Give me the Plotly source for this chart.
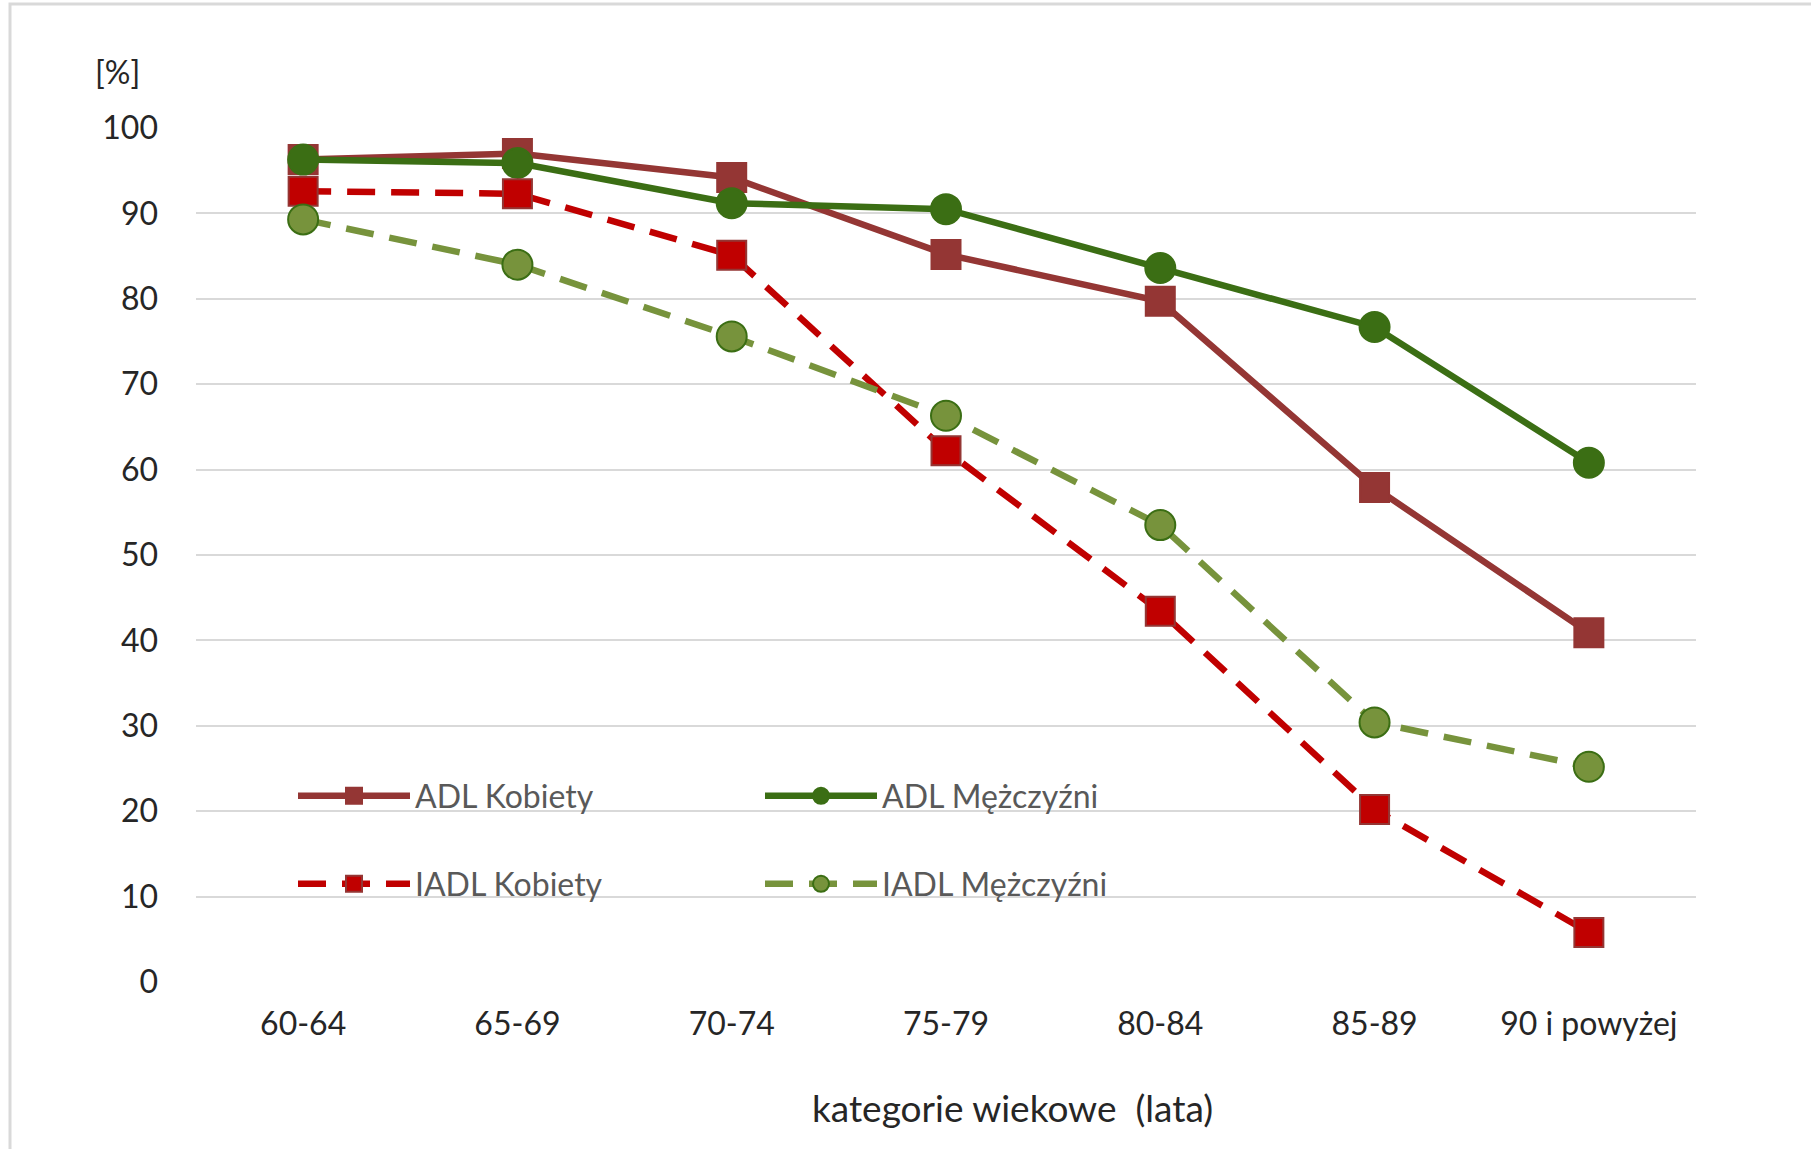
import plotly.graph_objects as go

categories = ["60-64", "65-69", "70-74", "75-79", "80-84", "85-89", "90 i powyżej"]
adl_kobiety = [96.3, 97.0, 94.2, 85.2, 79.7, 57.9, 40.9]
adl_mezczyzni = [96.3, 95.9, 91.2, 90.5, 83.6, 76.7, 60.8]
iadl_kobiety = [92.6, 92.3, 85.1, 62.2, 43.4, 20.2, 5.8]
iadl_mezczyzni = [89.3, 84.0, 75.6, 66.3, 53.5, 30.4, 25.2]
y_ticks = [0, 10, 20, 30, 40, 50, 60, 70, 80, 90, 100]

FONT = "Lato"
W, H = 1811, 1149
ML, MR, MT, MB = 196, 115, 128, 167
PW, PH = W - ML - MR, H - MT - MB

def px_x(p):
    return (p - ML) / PW

def px_y(p):
    return (H - MB - p) / PH

fig = go.Figure()

series = [
    ("ADL Kobiety", adl_kobiety, "#943634", "solid", "square", 29, "#943634", "#943634", "legend"),
    ("ADL Mężczyźni", adl_mezczyzni, "#3B6E14", "solid", "circle", 30, "#3B6E14", "#3B6E14", "legend2"),
    ("IADL Kobiety", iadl_kobiety, "#C00000", "28px,16px", "square", 29, "#C00000", "#943634", "legend3"),
    ("IADL Mężczyźni", iadl_mezczyzni, "#77933C", "28px,16px", "circle", 30, "#77933C", "#3B6E14", "legend4"),
]

for name, vals, col, dash, sym, msize, fill, edge, leg in series:
    fig.add_trace(go.Scatter(
        x=categories, y=vals, name=name, mode="lines+markers",
        line=dict(color=col, width=6.5, dash=dash),
        marker=dict(symbol=sym, size=msize, color=fill, line=dict(color=edge, width=2)),
        legend=leg, cliponaxis=False,
    ))

leg_common = dict(font=dict(family=FONT, size=32, color="#595959"), bgcolor="rgba(0,0,0,0)",
                  itemwidth=112, xanchor="left", yanchor="middle", orientation="v")
fig.update_layout(
    width=W, height=H,
    margin=dict(l=ML, r=MR, t=MT, b=MB),
    paper_bgcolor="white", plot_bgcolor="white",
    showlegend=True,
    legend=dict(x=px_x(293), y=px_y(796), **leg_common),
    legend2=dict(x=px_x(760), y=px_y(796), **leg_common),
    legend3=dict(x=px_x(293), y=px_y(884), **leg_common),
    legend4=dict(x=px_x(760), y=px_y(884), **leg_common),
    xaxis=dict(type="category", range=[-0.5, 6.5], showgrid=False, showline=False, zeroline=False,
               ticks="", tickfont=dict(family=FONT, size=32, color="#262626"), ticklabelstandoff=20),
    yaxis=dict(range=[0, 100], tickvals=y_ticks, showgrid=True, gridcolor="#D9D9D9", gridwidth=2,
               zeroline=False, showline=False, ticks="",
               tickfont=dict(family=FONT, size=32, color="#262626"), ticklabelstandoff=37),
    shapes=[dict(type="rect", xref="paper", yref="paper", x0=px_x(10), x1=px_x(W + 20),
                 y0=px_y(H + 20), y1=px_y(4), line=dict(color="#D9D9D9", width=3),
                 fillcolor="rgba(0,0,0,0)", layer="below")],
    annotations=[
        dict(text="[%]", xref="paper", yref="paper", x=px_x(117), y=px_y(72), showarrow=False,
             font=dict(family=FONT, size=32, color="#262626"), xanchor="center", yanchor="middle"),
        dict(text="kategorie wiekowe\u00a0 (lata)", xref="paper", yref="paper", x=px_x(1012), y=px_y(1107),
             showarrow=False, font=dict(family=FONT, size=37, color="#262626"),
             xanchor="center", yanchor="middle"),
    ],
)

fig.write_html("out.html", config={"displayModeBar": False},
               post_script="document.body.style.margin='0';")
